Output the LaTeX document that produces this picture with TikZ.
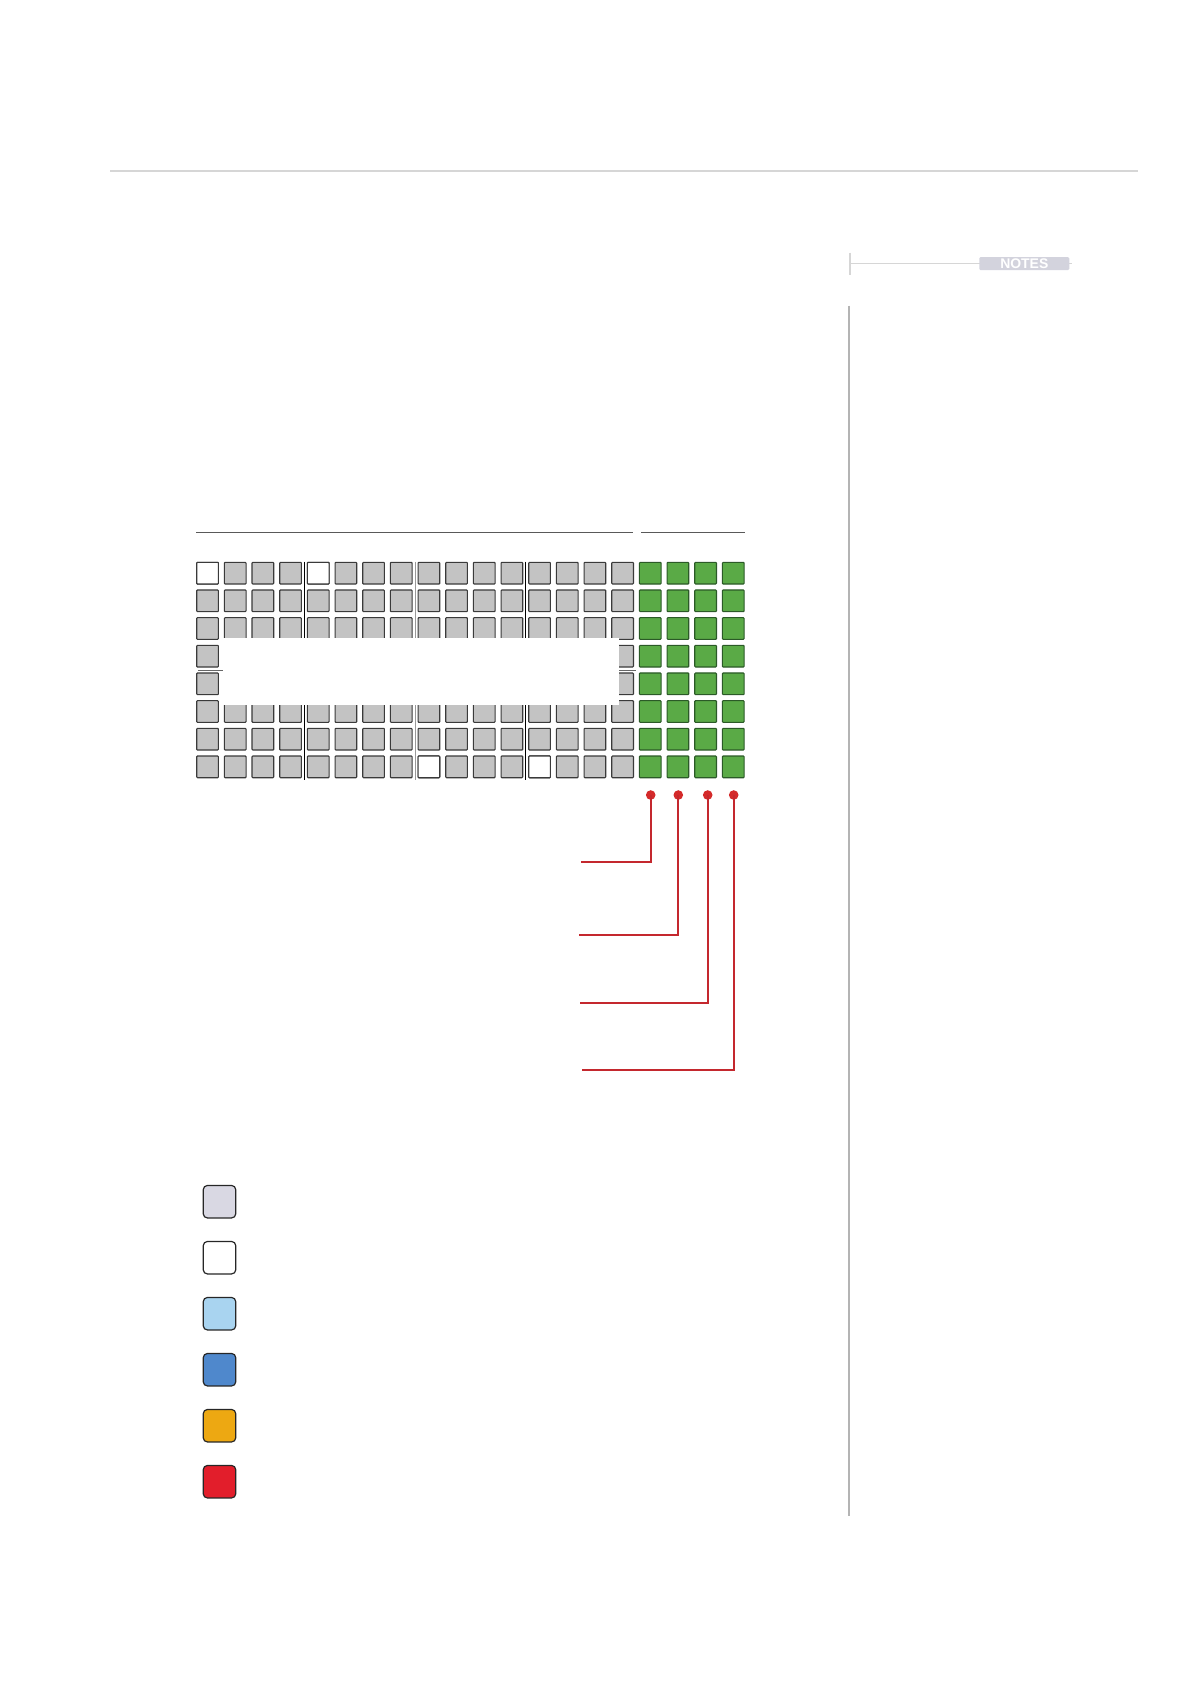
\documentclass[tikz,border=0pt]{standalone}
\usepackage{fontspec}
\setsansfont{Liberation Sans}
\definecolor{sqgray}{HTML}{C3C3C3}
\definecolor{sqedge}{HTML}{3A3A3A}
\definecolor{sqgreen}{HTML}{5AAA46}
\definecolor{greenedge}{HTML}{2B5A27}
\definecolor{rulegray}{HTML}{D6D6D6}
\definecolor{sidegray}{HTML}{B4B4B4}
\definecolor{notesbox}{HTML}{D3D3DD}
\definecolor{linkred}{HTML}{C4282E}
\definecolor{dotred}{HTML}{D42A2A}
\definecolor{lgA}{HTML}{D9D8E3}
\definecolor{lgC}{HTML}{A9D4F0}
\definecolor{lgD}{HTML}{4F88CC}
\definecolor{lgE}{HTML}{EDA812}
\definecolor{lgF}{HTML}{E21E2B}
\tikzset{
  cell/.style={draw=sqedge, fill=sqgray, line width=0.55bp, minimum size=10.85bp, inner sep=0pt, rounded corners=0.4bp},
  wcell/.style={cell, fill=white},
  gcell/.style={cell, draw=greenedge, fill=sqgreen},
  legendbox/.style={draw=black!85, line width=0.6bp, minimum size=16.2bp, inner sep=0pt, rounded corners=2bp},
  reddot/.style={circle, fill=dotred, minimum size=4.8bp, inner sep=0pt},
  redlink/.style={draw=linkred, line width=1bp},
}
\begin{document}
\begin{tikzpicture}[x=0.5bp, y=-0.5bp]
\useasboundingbox (0,0) rectangle (1191,1684);
% top rule
\draw[rulegray, line width=0.85bp] (110,170.7) -- (1138,170.7);
% notes header
\coordinate (nt1) at (850,252.7);
\coordinate (nt2) at (850,275);
\coordinate (nl1) at (850,263.3);
\coordinate (nl2) at (1072,263.3);
\draw[rulegray, line width=0.6bp] (nt1) -- (nt2);
\draw[rulegray, line width=0.6bp] (nl1) -- (nl2);
\node[fill=notesbox, text=white, font=\sffamily\bfseries\fontsize{7}{8}\selectfont, minimum width=45bp, minimum height=6.4bp, inner sep=0pt, rounded corners=0.6bp] (notes) at (1024.3,263.6) {NOTES};
% side vertical rule
\coordinate (sv1) at (849,305.7);
\coordinate (sv2) at (849,1515.7);
\draw[sidegray, line width=0.55bp] (sv1) -- (sv2);
% header lines above grid
\coordinate (h1a) at (196,532.7);
\coordinate (h1b) at (633.3,532.7);
\coordinate (h2a) at (641,532.7);
\coordinate (h2b) at (745,532.7);
\draw[black!65, line width=0.55bp] (h1a) -- (h1b);
\draw[black!65, line width=0.55bp] (h2a) -- (h2b);
% separators
\coordinate (s1a) at (304.4,561.7); \coordinate (s1b) at (304.4,780);
\coordinate (s2a) at (415.2,561.7); \coordinate (s2b) at (415.2,780);
\coordinate (s3a) at (525.7,561.7); \coordinate (s3b) at (525.7,780);
\draw[black, line width=0.6bp] (s1a) -- (s1b);
\draw[black!40, line width=0.6bp] (s2a) -- (s2b);
\draw[black, line width=0.6bp] (s3a) -- (s3b);
% grid
\foreach \r in {0,...,7}{
  \foreach \c in {0,...,15}{
    \node[cell] (c-\c-\r) at ({207.55+27.67*\c},{573.15+27.67*\r}) {};
  }
  \foreach \c in {16,...,19}{
    \node[gcell] (c-\c-\r) at ({207.55+27.67*\c},{573.15+27.67*\r}) {};
  }
}
\node[wcell] at (c-0-0) {};
\node[wcell] at (c-4-0) {};
\node[wcell] at (c-8-7) {};
\node[wcell] at (c-12-7) {};
% horizontal mid line and white cover box
\coordinate (ml1) at (198,670.3);
\coordinate (ml2) at (636,670.3);
\draw[black!60, line width=0.55bp] (ml1) -- (ml2);
\fill[white] (222.7,638.3) rectangle (619,705);
% red connectors
\node[reddot] (d1) at (650.7,795) {};
\node[reddot] (d2) at (678.3,795) {};
\node[reddot] (d3) at (707.7,795) {};
\node[reddot] (d4) at (733.7,795) {};
\coordinate (e1) at (581,861.7);
\coordinate (e2) at (579.3,935);
\coordinate (e3) at (580,1002.7);
\coordinate (e4) at (582,1070);
\draw[redlink] (d1.center) |- (e1);
\draw[redlink] (d2.center) |- (e2);
\draw[redlink] (d3.center) |- (e3);
\draw[redlink] (d4.center) |- (e4);
% legend
\node[legendbox, fill=lgA] (lg1) at (219.5,1201.7) {};
\node[legendbox, fill=white] (lg2) at (219.5,1257.7) {};
\node[legendbox, fill=lgC] (lg3) at (219.5,1313.7) {};
\node[legendbox, fill=lgD] (lg4) at (219.5,1369.7) {};
\node[legendbox, fill=lgE] (lg5) at (219.5,1425.7) {};
\node[legendbox, fill=lgF] (lg6) at (219.5,1481.7) {};
\end{tikzpicture}
\end{document}
